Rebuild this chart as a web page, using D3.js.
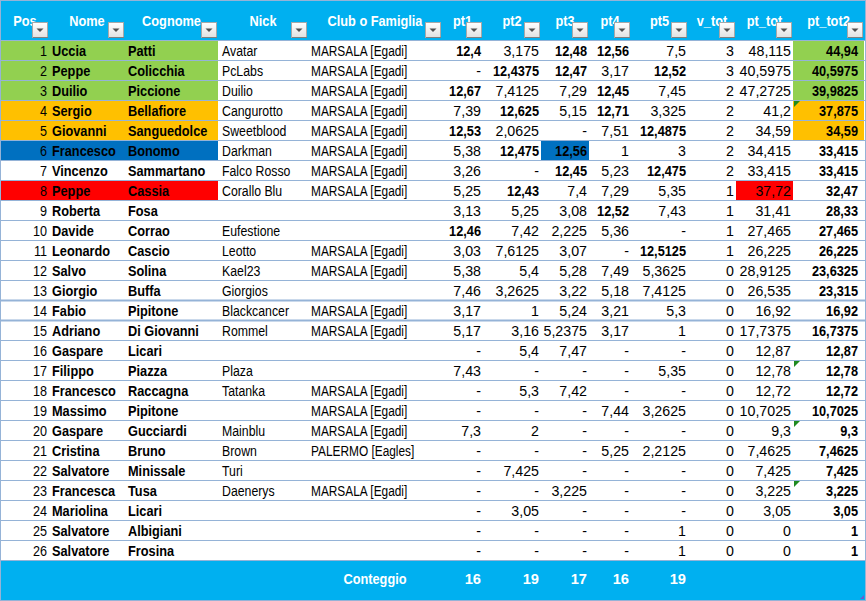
<!DOCTYPE html>
<html><head><meta charset="utf-8">
<script src="https://cdn.jsdelivr.net/npm/d3@7/dist/d3.min.js"></script>
<style>body{margin:0;background:#fff}svg{display:block}text{font-family:"Liberation Sans",Arial,sans-serif}</style>
</head><body>
<svg id="c" width="866" height="601"></svg>
<script>
const headers = ["Pos","Nome","Cognome","Nick","Club o Famiglia","pt1","pt2","pt3","pt4","pt5","v_tot","pt_tot","pt_tot2"];
const pos = d3.range(1, 27);
const nome = ["Uccia","Peppe","Duilio","Sergio","Giovanni","Francesco","Vincenzo","Peppe","Roberta","Davide","Leonardo","Salvo","Giorgio","Fabio","Adriano","Gaspare","Filippo","Francesco","Massimo","Gaspare","Cristina","Salvatore","Francesca","Mariolina","Salvatore","Salvatore"];
const cognome = ["Patti","Colicchia","Piccione","Bellafiore","Sanguedolce","Bonomo","Sammartano","Cassia","Fosa","Corrao","Cascio","Solina","Buffa","Pipitone","Di Giovanni","Licari","Piazza","Raccagna","Pipitone","Gucciardi","Bruno","Minissale","Tusa","Licari","Albigiani","Frosina"];
const nick = ["Avatar","PcLabs","Duilio","Cangurotto","Sweetblood","Darkman","Falco Rosso","Corallo Blu","","Eufestione","Leotto","Kael23","Giorgios","Blackcancer","Rommel","","Plaza","Tatanka","","Mainblu","Brown","Turi","Daenerys","","",""];
const M = "MARSALA [Egadi]";
const club = [M,M,M,M,M,M,M,M,"","",M,M,"",M,M,"","",M,M,M,"PALERMO [Eagles]","",M,"","",""];
const pt1 = [12.4,null,12.67,7.39,12.53,5.38,3.26,5.25,3.13,12.46,3.03,5.38,7.46,3.17,5.17,null,7.43,null,null,7.3,null,null,null,null,null,null];
const pt2 = [3.175,12.4375,7.4125,12.625,2.0625,12.475,null,12.43,5.25,7.42,7.6125,5.4,3.2625,1,3.16,5.4,null,5.3,null,2,null,7.425,null,3.05,null,null];
const pt3 = [12.48,12.47,7.29,5.15,null,12.56,12.45,7.4,3.08,2.225,3.07,5.28,3.22,5.24,5.2375,7.47,null,7.42,null,null,null,null,3.225,null,null,null];
const pt4 = [12.56,3.17,12.45,12.71,7.51,1,5.23,7.29,12.52,5.36,null,7.49,5.18,3.21,3.17,null,null,null,7.44,null,5.25,null,null,null,null,null];
const pt5 = [7.5,12.52,7.45,3.325,12.4875,3,12.475,5.35,7.43,null,12.5125,5.3625,7.4125,5.3,1,null,5.35,null,3.2625,null,2.2125,null,null,null,1,1];
const vTot = [3,3,2,2,2,2,2,1,1,1,1,0,0,0,0,0,0,0,0,0,0,0,0,0,0,0];
const ptTot = [48.115,40.5975,47.2725,41.2,34.59,34.415,33.415,37.72,31.41,27.465,26.225,28.9125,26.535,16.92,17.7375,12.87,12.78,12.72,10.7025,9.3,7.4625,7.425,3.225,3.05,0,0];
const ptTot2 = [44.94,40.5975,39.9825,37.875,34.59,33.415,33.415,32.47,28.33,27.465,26.225,23.6325,23.315,16.92,16.7375,12.87,12.78,12.72,10.7025,9.3,7.4625,7.425,3.225,3.05,1,1];
const footerLabel = "Conteggio";
const ptSeries = [pt1, pt2, pt3, pt4, pt5];

// styling config
const C = {green:"#92D050", orange:"#FFC000", blue:"#0070C0", red:"#FF0000", head:"#00B0F0", grid:"#95B3D7"};
const rowBand = {0:"green",1:"green",2:"green",3:"orange",4:"orange",5:"blue",7:"red"};
const cellFill = [{r:5,c:"pt3",f:"blue"},{r:7,c:"pt_tot",f:"red"},{r:0,c:"pt_tot2",f:"green"},{r:1,c:"pt_tot2",f:"green"},{r:2,c:"pt_tot2",f:"green"},{r:3,c:"pt_tot2",f:"orange"},{r:4,c:"pt_tot2",f:"orange"}];
const markRows = [3,16,19,22];

const edges = [1,49,125,218,308,442,483,541,589,631,688,736,793,864];
const colL = d3.scaleOrdinal().domain(headers).range(edges.slice(0,-1));
const colR = d3.scaleOrdinal().domain(headers).range(edges.slice(1));
const y = d3.scaleBand().domain(d3.range(26)).range([40,560]);
const fmt = v => v == null ? "-" : String(v).replace(".", ",");

const svg = d3.select("#c");
const FS = 14.67;

function txt(g, x, yy, s, o) {
  g.append("text").attr("transform", `translate(${x},${yy}) scale(${o.sx||1},1)`)
    .attr("text-anchor", o.anchor||"start").attr("font-size", FS)
    .attr("font-weight", o.bold ? "bold" : "normal")
    .attr("fill", o.fill||"#000").text(s);
}

// header & footer
svg.append("rect").attr("x",1).attr("y",0).attr("width",864).attr("height",40).attr("fill",C.head);
svg.append("rect").attr("x",1).attr("y",561).attr("width",864).attr("height",39).attr("fill",C.head);

// row fills
const fills = svg.append("g");
Object.entries(rowBand).forEach(([r,f]) => {
  fills.append("rect").attr("x",1).attr("y",y(+r)).attr("width",colL("Nick")-1).attr("height",y.bandwidth()).attr("fill",C[f]);
});
cellFill.forEach(d => {
  fills.append("rect").attr("x",colL(d.c)).attr("y",y(d.r)).attr("width",colR(d.c)-colL(d.c)).attr("height",y.bandwidth()).attr("fill",C[d.f]);
});

// grid lines
const grid = svg.append("g");
d3.range(1,27).forEach(i => {
  const yy = 40 + 20*i;
  const thick = (i===13 || i===14);
  grid.append("line").attr("x1",1).attr("x2",865).attr("y1",yy+0.5).attr("y2",yy+0.5)
    .attr("stroke",C.grid).attr("stroke-width",thick?2:1);
});
grid.append("line").attr("x1",1).attr("x2",865).attr("y1",40.5).attr("y2",40.5).attr("stroke",C.grid);
svg.append("rect").attr("x",0.5).attr("y",0.5).attr("width",865).attr("height",600).attr("fill","none").attr("stroke",C.grid);

// header text & buttons
const hg = svg.append("g");
headers.forEach(h => {
  const cx = (colL(h)+colR(h))/2;
  txt(hg, cx, 26, h, {anchor:"middle", bold:true, sx:0.87, fill:"#fff"});
});
const defs = svg.append("defs");
const gr = defs.append("linearGradient").attr("id","btn").attr("x1",0).attr("y1",0).attr("x2",0).attr("y2",1);
gr.append("stop").attr("offset",0).attr("stop-color","#FFFFFF");
gr.append("stop").attr("offset",1).attr("stop-color","#E1E1E1");
headers.forEach(h => {
  const bx = colR(h) - 17;
  hg.append("rect").attr("x",bx+0.5).attr("y",22.5).attr("width",15).attr("height",15).attr("fill","url(#btn)").attr("stroke","#A8A8A8");
  hg.append("line").attr("x1",bx+1).attr("x2",bx+16).attr("y1",37.5).attr("y2",37.5).attr("stroke","#808080");
  const tx = bx + 8;
  hg.append("path").attr("d",`M${tx-3.5},28.5 L${tx+3.5},28.5 L${tx},32 Z`).attr("fill","#505050");
});

// body text
const bg = svg.append("g");
const base = i => y(i) + 16;
d3.range(26).forEach(i => {
  txt(bg, colR("Pos")-2, base(i), pos[i], {anchor:"end", sx:0.86});
  txt(bg, colL("Nome")+3, base(i), nome[i], {bold:true, sx:0.87});
  txt(bg, colL("Cognome")+3, base(i), cognome[i], {bold:true, sx:0.87});
  if (nick[i]) txt(bg, colL("Nick")+4, base(i), nick[i], {sx:0.84});
  if (club[i]) txt(bg, colL("Club o Famiglia")+3, base(i), club[i], {sx:0.81});
  ptSeries.forEach((s, k) => {
    const h = headers[5+k];
    const v = s[i];
    const b = v != null && v >= 12;
    txt(bg, colR(h)-2, base(i), fmt(v), {anchor:"end", bold:b, sx:b?0.87:0.97});
  });
  txt(bg, colR("v_tot")-2, base(i), vTot[i], {anchor:"end", sx:0.97});
  txt(bg, colR("pt_tot")-2, base(i), fmt(ptTot[i]), {anchor:"end", sx:0.97});
  txt(bg, colR("pt_tot2")-6, base(i), fmt(ptTot2[i]), {anchor:"end", bold:true, sx:0.87});
});

// comment markers
markRows.forEach(r => {
  const x0 = colL("pt_tot2")+1, y0 = y(r)+1;
  bg.append("path").attr("d",`M${x0},${y0} L${x0+6},${y0} L${x0},${y0+6} Z`).attr("fill","#1F8A1F");
});

// footer
const fg = svg.append("g");
txt(fg, (colL("Club o Famiglia")+colR("Club o Famiglia"))/2, 584, footerLabel, {anchor:"middle", bold:true, sx:0.87, fill:"#fff"});
ptSeries.forEach((s,k) => {
  const h = headers[5+k];
  txt(fg, colR(h)-2, 584, s.filter(v => v != null).length, {anchor:"end", bold:true, sx:1, fill:"#fff"});
});
// resize grip
fg.append("path").attr("d","M864,595 L864,599 L860,599 Z").attr("fill","#6A5ACD");
</script>
</body></html>
